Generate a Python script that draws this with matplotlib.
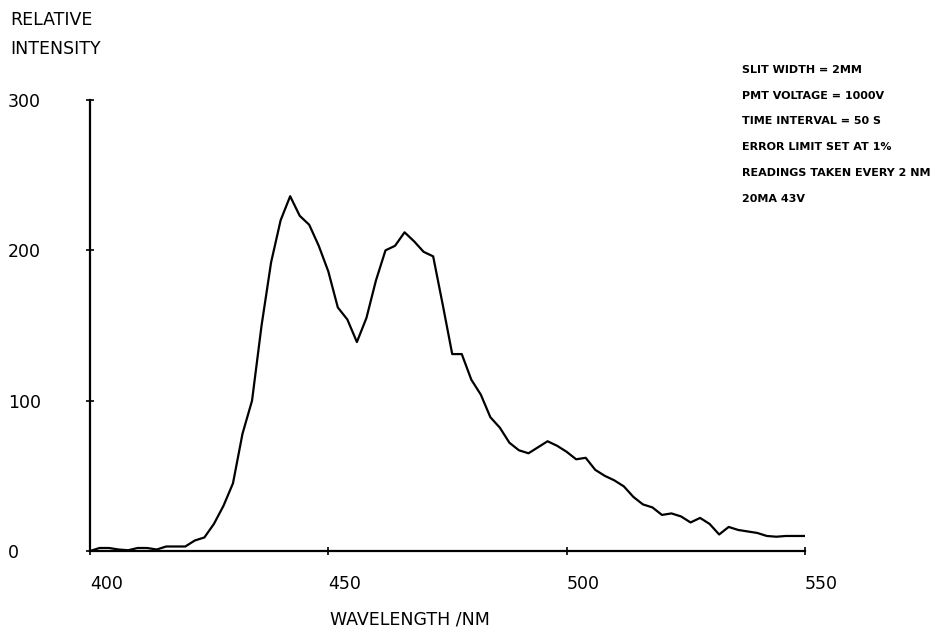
import matplotlib
matplotlib.use("Agg")
from matplotlib import pyplot as plt
import numpy as np

# readings every 2 nm, 400-550 nm
wavelength = np.arange(400, 551, 2)
intensity = [0, 2, 2, 1, 0.5, 2, 2, 1, 3, 3,
             3, 7, 9, 18, 30, 45, 78, 100, 150, 192,
             220, 236, 223, 217, 203, 186, 162, 154, 139, 155,
             180, 200, 203, 212, 206, 199, 196, 164, 131, 131,
             114, 104, 89, 82, 72, 67, 65, 69, 73, 70,
             66, 61, 62, 54, 50, 47, 43, 36, 31, 29,
             24, 25, 23, 19, 22, 18, 11, 16, 14, 13,
             12, 10, 9.5, 10, 10, 10]

x_ticks = [400, 450, 500, 550]
y_ticks = [0, 100, 200, 300]

notes = ["SLIT WIDTH = 2MM",
         "PMT VOLTAGE = 1000V",
         "TIME INTERVAL = 50 S",
         "ERROR LIMIT SET AT 1%",
         "READINGS TAKEN EVERY 2 NM",
         "20MA 43V"]

fig = plt.figure(figsize=(9.47, 6.29), dpi=100)
ax = fig.add_axes([0.095, 0.124, 0.755, 0.717])

ax.plot(wavelength, intensity, color="black", lw=1.6)

ax.set_xlim(400, 550)
ax.set_ylim(0, 300)
for s in ["top", "right"]:
    ax.spines[s].set_visible(False)
for s in ["left", "bottom"]:
    ax.spines[s].set_linewidth(1.6)

ax.set_xticks(x_ticks)
ax.set_xticklabels([str(v) for v in x_ticks], ha="left")
ax.set_yticks(y_ticks)
ax.set_yticklabels([str(v) for v in y_ticks], ha="left", va="bottom")
ax.tick_params(axis="x", direction="inout", length=6, width=1.2, pad=14, labelsize=12.5)
ax.tick_params(axis="y", direction="inout", length=6, width=1.2, pad=56, labelsize=12.5)
for lbl in ax.get_yticklabels():
    lbl.set_va("center_baseline")

fig.text(10 / 947, 1 - 20 / 629, "RELATIVE", fontsize=12.5, va="center")
fig.text(10 / 947, 1 - 49 / 629, "INTENSITY", fontsize=12.5, va="center")
fig.text(330 / 947, 1 - 619 / 629, "WAVELENGTH /NM", fontsize=12.5, va="center")

for i, t in enumerate(notes):
    fig.text(742 / 947, 1 - (70 + i * 25.7) / 629, t, fontsize=8,
             fontweight="bold", va="center")

fig.savefig("out.png", dpi=100)
